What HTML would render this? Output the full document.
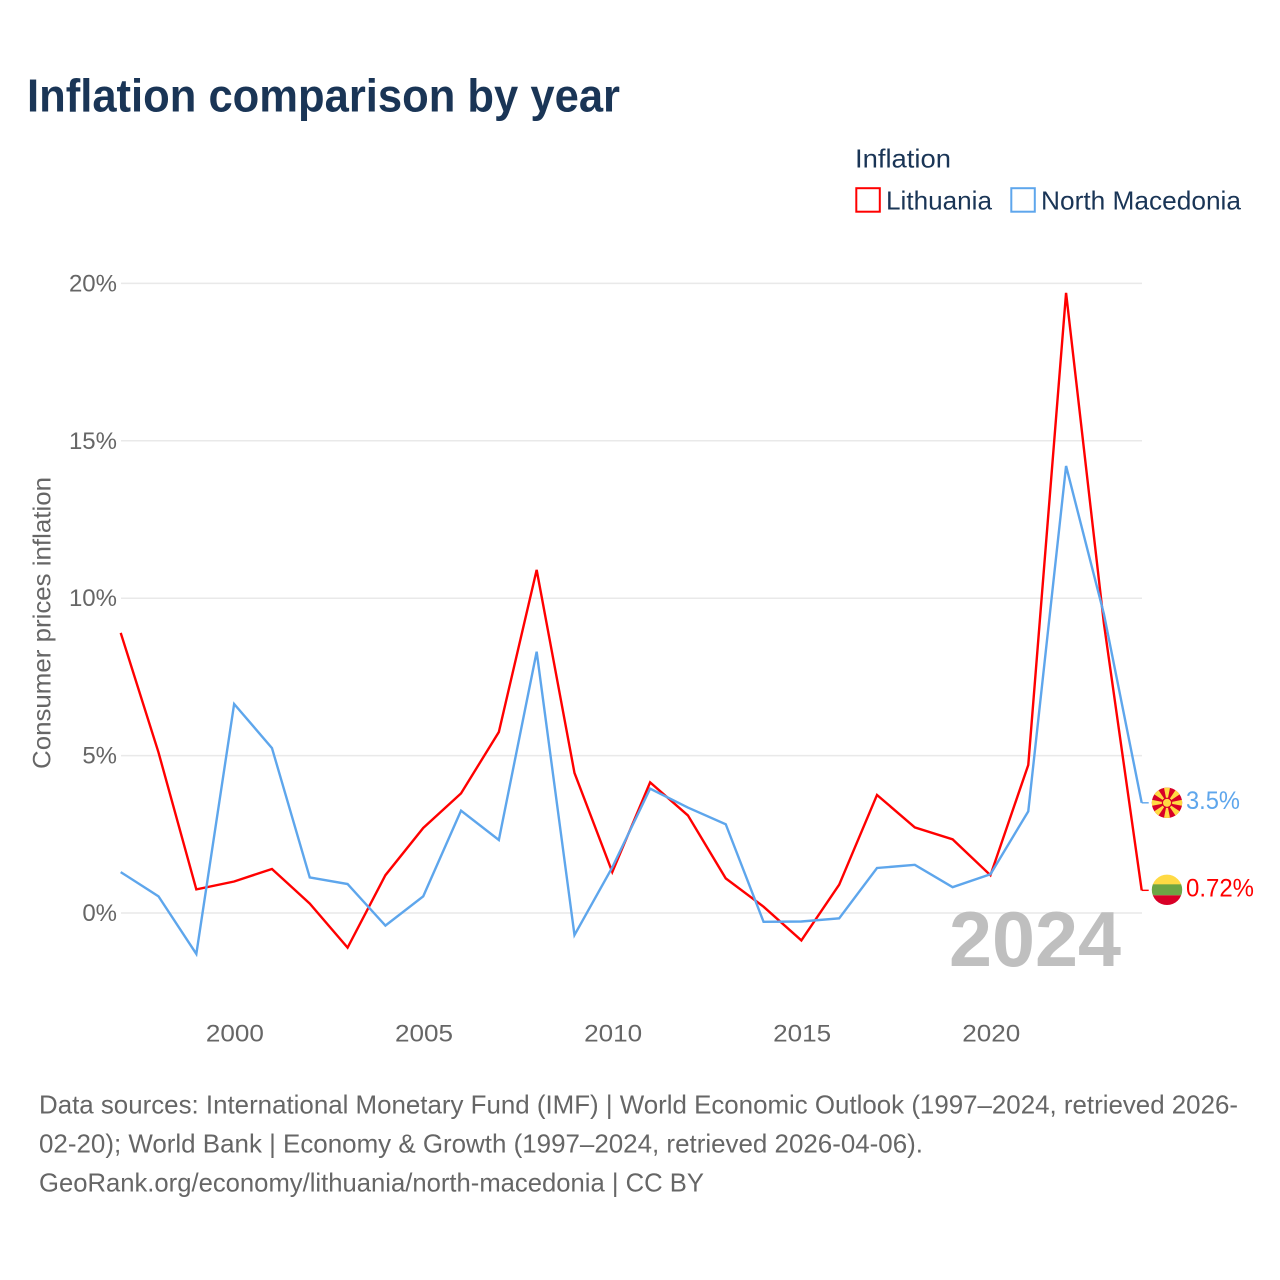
<!DOCTYPE html>
<html lang="en">
<head>
<meta charset="utf-8">
<title>Inflation comparison by year</title>
<style>
  html, body { margin: 0; padding: 0; background: #fff; }
  svg { display: block; font-family: "Liberation Sans", sans-serif; }
</style>
</head>
<body>
<svg id="chart" width="1280" height="1280" viewBox="0 0 1280 1280" xmlns="http://www.w3.org/2000/svg">
  <rect x="0" y="0" width="1280" height="1280" fill="#ffffff"/>
  <text x="27" y="111.5" font-size="46" font-weight="700" fill="#1a3556" textLength="593" lengthAdjust="spacingAndGlyphs">Inflation comparison by year</text>

  <g>
    <text x="855" y="167.5" font-size="26" fill="#1a3556" textLength="96" lengthAdjust="spacingAndGlyphs">Inflation</text>
    <rect x="856.3" y="188.2" width="23.5" height="23.5" fill="#ffffff" stroke="#ff0000" stroke-width="2"/>
    <text x="886" y="209.5" font-size="26" fill="#1a3556" textLength="106" lengthAdjust="spacingAndGlyphs">Lithuania</text>
    <rect x="1011.3" y="188.2" width="23.5" height="23.5" fill="#ffffff" stroke="#5ea6ec" stroke-width="2"/>
    <text x="1041" y="209.5" font-size="26" fill="#1a3556" textLength="200" lengthAdjust="spacingAndGlyphs">North Macedonia</text>
  </g>

  <g id="grid"></g>
  <g id="y-ticks"></g>
  <g id="x-ticks"></g>
  <text transform="translate(50.5 769) rotate(-90)" font-size="25" fill="#666666" textLength="292" lengthAdjust="spacingAndGlyphs">Consumer prices inflation</text>

  <text x="949" y="966" font-size="78" font-weight="700" fill="#bfbfbf" textLength="172" lengthAdjust="spacingAndGlyphs">2024</text>

  <g id="series"></g>

  <defs>
    <clipPath id="flag-clip"><circle cx="0" cy="0" r="15.2"/></clipPath>
  </defs>

  <g id="flag-mk">
    <g clip-path="url(#flag-clip)">
      <rect x="-16" y="-16" width="32" height="32" fill="#d80027"/>
      <path d="M0 0L-3.2 -16L3.2 -16Z" fill="#ffda44"/>
      <path d="M0 0L-3.2 -16L3.2 -16Z" fill="#ffda44" transform="rotate(45)"/>
      <path d="M0 0L-3.2 -16L3.2 -16Z" fill="#ffda44" transform="rotate(90)"/>
      <path d="M0 0L-3.2 -16L3.2 -16Z" fill="#ffda44" transform="rotate(135)"/>
      <path d="M0 0L-3.2 -16L3.2 -16Z" fill="#ffda44" transform="rotate(180)"/>
      <path d="M0 0L-3.2 -16L3.2 -16Z" fill="#ffda44" transform="rotate(225)"/>
      <path d="M0 0L-3.2 -16L3.2 -16Z" fill="#ffda44" transform="rotate(270)"/>
      <path d="M0 0L-3.2 -16L3.2 -16Z" fill="#ffda44" transform="rotate(315)"/>
      <circle cx="0" cy="0" r="5.2" fill="#d80027"/>
      <circle cx="0" cy="0" r="4" fill="#ffda44"/>
    </g>
  </g>
  <g id="flag-lt">
    <g clip-path="url(#flag-clip)">
      <rect x="-16" y="-16" width="32" height="11" fill="#ffda44"/>
      <rect x="-16" y="-5.5" width="32" height="11" fill="#6da544"/>
      <rect x="-16" y="5.5" width="32" height="11" fill="#d80027"/>
    </g>
  </g>
  <text id="label-mk" x="1186" font-size="25" fill="#5ea6ec" textLength="54" lengthAdjust="spacingAndGlyphs"></text>
  <text id="label-lt" x="1186" font-size="25" fill="#ff0000" textLength="68" lengthAdjust="spacingAndGlyphs"></text>

  <g font-size="26" fill="#666666">
    <text x="39" y="1113.5" textLength="1199" lengthAdjust="spacingAndGlyphs">Data sources: International Monetary Fund (IMF) | World Economic Outlook (1997–2024, retrieved 2026-</text>
    <text x="39" y="1152.5" textLength="884" lengthAdjust="spacingAndGlyphs">02-20); World Bank | Economy &amp; Growth (1997–2024, retrieved 2026-04-06).</text>
    <text x="39" y="1191.5" textLength="665" lengthAdjust="spacingAndGlyphs">GeoRank.org/economy/lithuania/north-macedonia | CC BY</text>
  </g>
</svg>

<script>
const years = [1997,1998,1999,2000,2001,2002,2003,2004,2005,2006,2007,2008,2009,2010,2011,2012,2013,2014,2015,2016,2017,2018,2019,2020,2021,2022,2023,2024];
const lithuania = [8.9,5.1,0.75,1.0,1.4,0.3,-1.1,1.2,2.7,3.8,5.75,10.9,4.45,1.3,4.15,3.1,1.1,0.2,-0.87,0.9,3.75,2.72,2.34,1.2,4.7,19.7,9.2,0.72];
const northMacedonia = [1.3,0.53,-1.3,6.64,5.24,1.13,0.92,-0.4,0.53,3.25,2.32,8.3,-0.7,1.45,3.95,3.35,2.82,-0.28,-0.27,-0.17,1.43,1.53,0.82,1.23,3.23,14.2,9.5,3.5];
const yTicks = [0,5,10,15,20];
const xTicks = [2000,2005,2010,2015,2020];
const endLabelLithuania = "0.72%";
const endLabelNorthMacedonia = "3.5%";

const NS = "http://www.w3.org/2000/svg";
function xScale(year) { return 120.7 + (year - 1997) * (1021 / 27); }
function yScale(value) { return 913 - value * 31.48; }
function make(tag, attrs) {
  const el = document.createElementNS(NS, tag);
  for (const key in attrs) el.setAttribute(key, attrs[key]);
  return el;
}

const grid = document.getElementById("grid");
const yGroup = document.getElementById("y-ticks");
yTicks.forEach(function (t) {
  const line = make("line", { x1: 121, x2: 1142, y1: yScale(t), y2: yScale(t), stroke: "#e9e9e9", "stroke-width": 1.5 });
  
  
  grid.appendChild(line);
  const label = make("text", { x: 117, y: yScale(t) + 8, "text-anchor": "end", "font-size": 24, fill: "#666666" });
  
  
  label.textContent = t + "%";
  yGroup.appendChild(label);
});

const xGroup = document.getElementById("x-ticks");
xTicks.forEach(function (t) {
  const label = make("text", { x: xScale(t) + 0.8, y: 1041.5, "text-anchor": "middle", "font-size": 24, fill: "#666666", textLength: 58, lengthAdjust: "spacingAndGlyphs" });
  
  
  label.textContent = t;
  xGroup.appendChild(label);
});

function linePath(values) {
  return values.map(function (v, i) {
    return (i ? "L" : "M") + xScale(years[i]).toFixed(2) + " " + yScale(v).toFixed(2);
  }).join("");
}

const seriesGroup = document.getElementById("series");

const lineLt = make("path", { d: linePath(lithuania), fill: "none", stroke: "#ff0000", "stroke-width": 2.4, "stroke-linejoin": "miter" });


seriesGroup.appendChild(lineLt);

const lineMk = make("path", { d: linePath(northMacedonia), fill: "none", stroke: "#5ea6ec", "stroke-width": 2.4, "stroke-linejoin": "miter" });


seriesGroup.appendChild(lineMk);

const lastLt = yScale(lithuania[lithuania.length - 1]);
const lastMk = yScale(northMacedonia[northMacedonia.length - 1]);
const lastX = xScale(years[years.length - 1]);

const stubLt = make("line", { x1: lastX, x2: lastX + 7, y1: lastLt, y2: lastLt, stroke: "#ff0000", "stroke-width": 1.4 });


seriesGroup.appendChild(stubLt);

const stubMk = make("line", { x1: lastX, x2: lastX + 7, y1: lastMk, y2: lastMk, stroke: "#5ea6ec", "stroke-width": 1.4 });


seriesGroup.appendChild(stubMk);

document.getElementById("flag-lt").setAttribute("transform", "translate(1167 " + (lastLt - 0.5) + ")");
document.getElementById("flag-mk").setAttribute("transform", "translate(1167 " + lastMk + ")");

const labelLt = document.getElementById("label-lt");
labelLt.setAttribute("y", lastLt + 6);
labelLt.textContent = endLabelLithuania;
const labelMk = document.getElementById("label-mk");
labelMk.setAttribute("y", lastMk + 6);
labelMk.textContent = endLabelNorthMacedonia;
</script>
</body>
</html>
